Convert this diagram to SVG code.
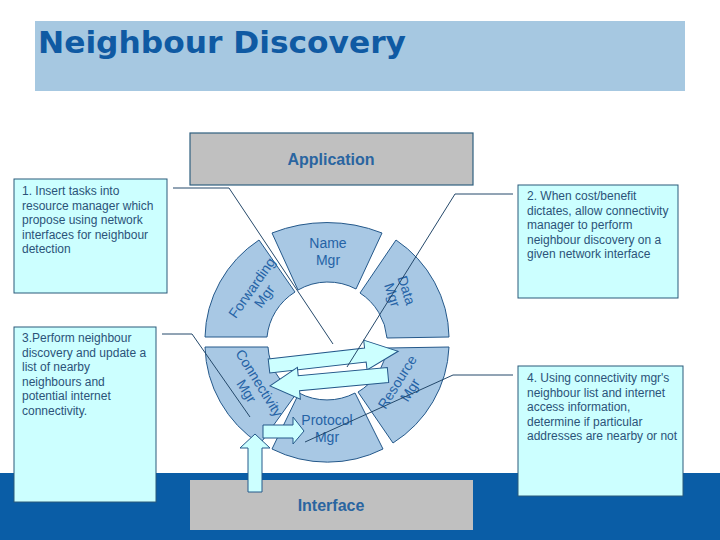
<svg xmlns="http://www.w3.org/2000/svg" width="720" height="540" viewBox="0 0 720 540">
<style>
.seg{fill:#a8c8e4;stroke:#24588a;stroke-width:1}
.segt{font-family:"Liberation Sans",Arial,sans-serif;font-size:14px;fill:#2563a6;text-anchor:middle}
.box{fill:#c0c0c0}
.boxt{font-family:"Liberation Sans",Arial,sans-serif;font-size:16px;font-weight:bold;fill:#2a65a0;text-anchor:middle}
.call{fill:#ccffff;stroke:#2a5a7a;stroke-width:1}
.callt{font-family:"Liberation Sans",Arial,sans-serif;font-size:12px;fill:#2b5379}
.arr{fill:#ccffff;stroke:#24588a;stroke-width:1;stroke-linejoin:miter}
.con{fill:none;stroke:#24486a;stroke-width:1}
</style>
<rect x="0" y="0" width="720" height="540" fill="#ffffff"/>
<rect x="0" y="473" width="720" height="67" fill="#0a5da6"/>
<g id="title">
<rect x="35" y="21" width="650" height="70" fill="#a6c8e1"/>
<text x="38" y="53" font-family="DejaVu Sans,Verdana,sans-serif" font-size="30" font-weight="bold" fill="#0f5aa3" textLength="368" lengthAdjust="spacingAndGlyphs">Neighbour Discovery</text>
</g>
<g id="application">
<rect class="box" x="190" y="133" width="283" height="52" stroke="#2f5f7f" stroke-width="1.2"/>
<text class="boxt" x="331" y="165">Application</text>
</g>
<g id="interface">
<rect class="box" x="190" y="480" width="283" height="50"/>
<text class="boxt" x="331" y="511">Interface</text>
</g>
<g id="callout1">
<rect class="call" x="14" y="179" width="153" height="114"/>
<text class="callt"><tspan x="22" y="195">1. Insert tasks into</tspan><tspan x="22" y="209.5">resource manager which</tspan><tspan x="22" y="224">propose using network</tspan><tspan x="22" y="238.5">interfaces for neighbour</tspan><tspan x="22" y="253">detection</tspan></text>
</g>
<g id="callout2">
<rect class="call" x="518" y="185" width="160" height="113"/>
<text class="callt"><tspan x="527" y="200">2. When cost/benefit</tspan><tspan x="527" y="214.5">dictates, allow connectivity</tspan><tspan x="527" y="229">manager to perform</tspan><tspan x="527" y="243.5">neighbour discovery on a</tspan><tspan x="527" y="258">given network interface</tspan></text>
</g>
<g id="callout3">
<rect class="call" x="14" y="327" width="142" height="175"/>
<text class="callt"><tspan x="22" y="342">3.Perform neighbour</tspan><tspan x="22" y="356.5">discovery and update a</tspan><tspan x="22" y="371">list of nearby</tspan><tspan x="22" y="385.5">neighbours and</tspan><tspan x="22" y="400">potential internet</tspan><tspan x="22" y="414.5">connectivity.</tspan></text>
</g>
<g id="callout4">
<rect class="call" x="518" y="366" width="165" height="130"/>
<text class="callt"><tspan x="527" y="382">4. Using connectivity mgr's</tspan><tspan x="527" y="396.5">neighbour list and internet</tspan><tspan x="527" y="411">access information,</tspan><tspan x="527" y="425.5">determine if particular</tspan><tspan x="527" y="440">addresses are nearby or not</tspan></text>
</g>
<g id="name-mgr">
<path class="seg" d="M272,233 A150,150 0 0 1 382,233 L356,289 A60,60 0 0 0 298,290 Z"/>
<text class="segt"><tspan x="328" y="248">Name</tspan><tspan x="328" y="265">Mgr</tspan></text>
</g>
<g id="data-mgr">
<path class="seg" d="M396,240 A122,120 0 0 1 449,337 L387,338 A60,60 0 0 0 360,293 Z"/>
<g transform="translate(399.5,292.5) rotate(72)"><text class="segt"><tspan x="0" y="-2.5">Data</tspan><tspan x="0" y="12.5">Mgr</tspan></text></g>
</g>
<g id="resource-mgr">
<path class="seg" d="M449,347 A122,120 0 0 1 393,443 L358,392 A60,60 0 0 0 387,348 Z"/>
<g transform="translate(403.5,386) rotate(-58)"><text class="segt"><tspan x="0" y="-2.5">Resource</tspan><tspan x="0" y="12.5">Mgr</tspan></text></g>
</g>
<g id="protocol-mgr">
<path class="seg" d="M383,449 A122,120 0 0 1 272,449 L299,393 A60,60 0 0 0 355,393 Z"/>
<text class="segt"><tspan x="327" y="425">Protocol</tspan><tspan x="327" y="442">Mgr</tspan></text>
</g>
<g id="connectivity-mgr">
<path class="seg" d="M260,444 A122,120 0 0 1 205,347 L268,347 A60,60 0 0 0 296,394 Z"/>
<g transform="translate(253,387) rotate(58)"><text class="segt"><tspan x="0" y="-2.5">Connectivity</tspan><tspan x="0" y="12.5">Mgr</tspan></text></g>
</g>
<g id="forwarding-mgr">
<path class="seg" d="M205,337 A122,120 0 0 1 259,240 L295,292 A60,60 0 0 0 267,337 Z"/>
<g transform="translate(258,292) rotate(-55)"><text class="segt"><tspan x="0" y="-2.5">Forwarding</tspan><tspan x="0" y="12.5">Mgr</tspan></text></g>
</g>
<g id="arrows">
<polygon class="arr" transform="translate(269,366) rotate(-6.5)" points="0,-7 97,-7 97,-15 130,0 97,15 97,7 0,7"/>
<polygon class="arr" transform="translate(388,375) rotate(174.7)" points="0,-7.5 89.5,-7.5 89.5,-16 118.5,0 89.5,16 89.5,7.5 0,7.5"/>
<polygon class="arr" points="263,425 293,425 293,417 304,431 293,444 293,438 263,438"/>
<polygon class="arr" points="248,492 248,448 240,448 255,434 270,448 262,448 262,492"/>
</g>
<g id="connectors">
<polyline class="con" points="173,188 229,188 333,344"/>
<polyline class="con" points="513,194 455,194 347,367"/>
<polyline class="con" points="162,334 192,334 250,417"/>
<polyline class="con" points="513,375 453,375 305,442"/>
</g>
</svg>
